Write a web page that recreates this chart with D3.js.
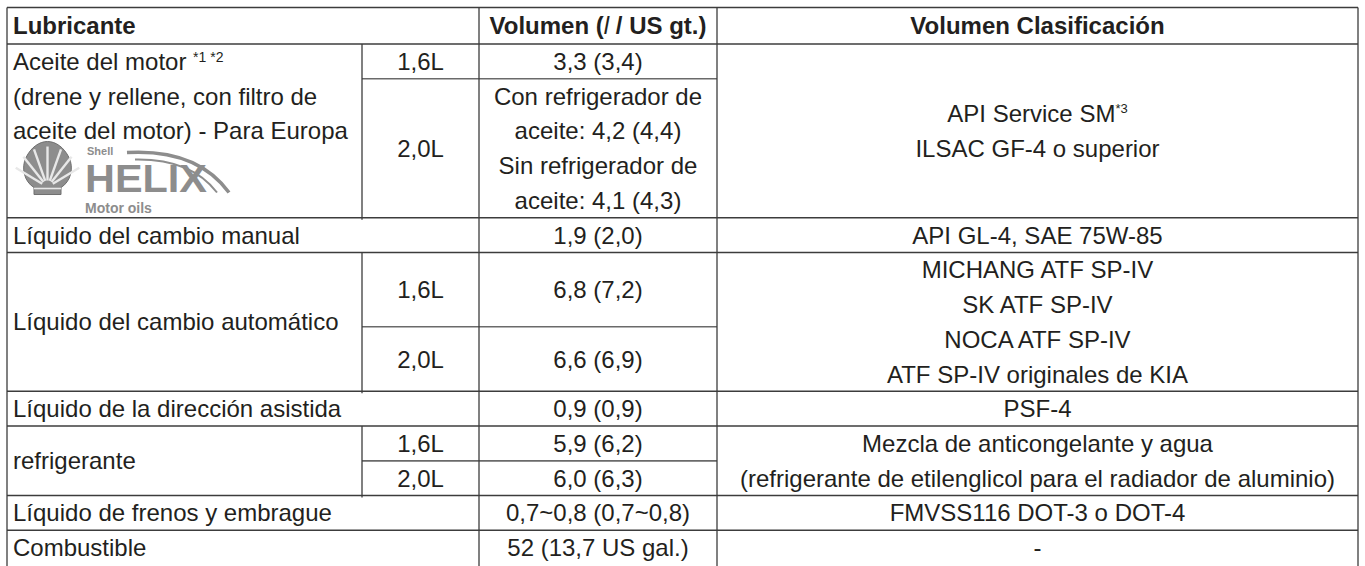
<!DOCTYPE html>
<html>
<head>
<meta charset="utf-8">
<script src="https://cdn.jsdelivr.net/npm/d3@7"></script>
<style>
  html, body { margin: 0; padding: 0; background: #ffffff; }
  svg { display: block; }
  text { font-family: "Liberation Sans", Arial, Helvetica, sans-serif; fill: #231f20; }
</style>
</head>
<body>
<svg id="chart" width="1365" height="566"></svg>
<script>
// ---------------- DATA ----------------
const headers = ["Lubricante", "Volumen (", "l", " / US gt.)", "Volumen Clasificación"];
const lubricantes = [
  "Aceite del motor",
  "Líquido del cambio manual",
  "Líquido del cambio automático",
  "Líquido de la dirección asistida",
  "refrigerante",
  "Líquido de frenos y embrague",
  "Combustible"
];
const notasAceite = ["(drene y rellene, con filtro de", "aceite del motor) - Para Europa"];
const superAceite = "*1 *2";
const variantes = [["1,6L", "2,0L"], [], ["1,6L", "2,0L"], [], ["1,6L", "2,0L"], [], []];
const volumenes = [
  [["3,3 (3,4)"], ["Con refrigerador de", "aceite: 4,2 (4,4)", "Sin refrigerador de", "aceite: 4,1 (4,3)"]],
  [["1,9 (2,0)"]],
  [["6,8 (7,2)"], ["6,6 (6,9)"]],
  [["0,9 (0,9)"]],
  [["5,9 (6,2)"], ["6,0 (6,3)"]],
  [["0,7~0,8 (0,7~0,8)"]],
  [["52 (13,7 US gal.)"]]
];
const clasificaciones = [
  ["API Service SM", "ILSAC GF-4 o superior"],
  ["API GL-4, SAE 75W-85"],
  ["MICHANG ATF SP-IV", "SK ATF SP-IV", "NOCA ATF SP-IV", "ATF SP-IV originales de KIA"],
  ["PSF-4"],
  ["Mezcla de anticongelante y agua", "(refrigerante de etilenglicol para el radiador de aluminio)"],
  ["FMVSS116 DOT-3 o DOT-4"],
  ["-"]
];
const superClasif = "*3";
const logoTexts = ["Shell", "HELIX", "Motor oils"];

// ---------------- LAYOUT ----------------
const blockUnits = [5, 1, 4, 1, 2, 1, 1];
const subUnits = [[1, 4], [1], [2.14, 1.86], [1], [1, 1], [1], [1]];

const svg = d3.select("#chart");
const x = d3.scaleLinear().domain([0, 1, 2, 3, 4]).range([7, 362, 479, 717, 1358]);
const y = d3.scaleLinear().domain([0, 1, 16]).range([7.5, 44, 565]);

const FS = 24;
const capOff = FS * 0.358;
const lineColor = "#3c3c3c";

const blockStart = [];
let u = 1;
blockUnits.forEach(b => { blockStart.push(u); u += b; });

const gLines = svg.append("g");
function hline(u0, c0, c1, color, w) {
  gLines.append("line")
    .attr("x1", x(c0)).attr("x2", x(c1))
    .attr("y1", y(u0)).attr("y2", y(u0))
    .attr("stroke", color || lineColor).attr("stroke-width", w || 1.5);
}
function vline(c, u0, u1) {
  gLines.append("line")
    .attr("x1", x(c)).attr("x2", x(c))
    .attr("y1", y(u0)).attr("y2", y(u1) + 2)
    .attr("stroke", lineColor).attr("stroke-width", 1.3);
}

hline(0, 0, 4);
hline(1, 0, 4);
blockStart.forEach((s, i) => {
  if (i < blockStart.length - 1) hline(s + blockUnits[i], 0, 4);
  let acc = s;
  subUnits[i].slice(0, -1).forEach(su => {
    acc += su;
    hline(acc, 1, 3, "#6a6a6a", 1.7);
  });
});
vline(0, 0, 16);
vline(4, 0, 16);
vline(2, 0, 16);
vline(3, 0, 16);
blockStart.forEach((s, i) => {
  if (variantes[i].length) vline(1, s, s + blockUnits[i]);
});

// ---------------- TEXT ----------------
const gText = svg.append("g");
function txt(str, px, centerY, anchor, opts) {
  const t = gText.append("text")
    .attr("x", px).attr("y", centerY + capOff)
    .attr("text-anchor", anchor || "start")
    .attr("font-size", FS)
    .text(str);
  if (opts && opts.bold) t.attr("font-weight", "bold");
  return t;
}

const hy = (y(0) + y(1)) / 2;
txt(headers[0], 13, hy, "start", { bold: true });
const vh = gText.append("text")
  .attr("x", (x(2) + x(3)) / 2).attr("y", hy + capOff)
  .attr("text-anchor", "middle").attr("font-size", FS).attr("font-weight", "bold");
vh.append("tspan").text(headers[1]);
vh.append("tspan").attr("font-style", "italic").attr("font-weight", "normal").text(headers[2]);
vh.append("tspan").text(headers[3]);
txt(headers[4], (x(3) + x(4)) / 2, hy, "middle", { bold: true });

const cx2 = (x(2) + x(3)) / 2;
const cx3 = (x(3) + x(4)) / 2;
const cx1 = (x(1) + x(2)) / 2;

blockStart.forEach((s, i) => {
  const bUnits = blockUnits[i];
  if (i === 0) {
    const t = txt(lubricantes[0] + " ", 13, y(s + 0.5), "start");
    t.append("tspan").attr("font-size", 14).attr("dy", -8).text(superAceite);
    notasAceite.forEach((n, k) => txt(n, 13, y(s + 1.5 + k), "start"));
  } else {
    txt(lubricantes[i], 13, (y(s) + y(s + bUnits)) / 2, "start");
  }
  let acc = s;
  subUnits[i].forEach((su, k) => {
    const cy = (y(acc) + y(acc + su)) / 2;
    if (variantes[i].length) txt(variantes[i][k], cx1, cy, "middle");
    const lines = volumenes[i][k];
    lines.forEach((l, j) => {
      const ly = cy + (j - (lines.length - 1) / 2) * (y(2) - y(1));
      txt(l, cx2, ly, "middle");
    });
    acc += su;
  });
  const ccy = (y(s) + y(s + bUnits)) / 2;
  const cl = clasificaciones[i];
  cl.forEach((l, j) => {
    const ly = ccy + (j - (cl.length - 1) / 2) * (y(2) - y(1));
    const t = txt(l, cx3, ly, "middle");
    if (i === 0 && j === 0) {
      t.append("tspan").attr("font-size", 13).attr("dy", -9).text(superClasif);
    }
  });
});

// ---------------- LOGO (Shell Helix) ----------------
const logoTop = y(blockStart[0] + 2.75) - 1;
const logo = svg.append("g").attr("transform", `translate(${x(0)},${logoTop})`);
const grey = "#8d8d8d";
logo.append("path")
  .attr("d", "M27 56 L27 49 C17 43 14 29 19 19 C24 9 32 3 40.5 3 C49 3 57 9 62 19 C67 29 64 43 54 49 L54 56 Z")
  .attr("fill", grey).attr("stroke", "#6f6f6f").attr("stroke-width", 1);
const rays = [-62, -42, -22, 0, 22, 42, 62];
rays.forEach(a => {
  const r = a * Math.PI / 180;
  logo.append("line")
    .attr("x1", 40.5 + Math.sin(r) * 6).attr("y1", 48 - Math.cos(r) * 6)
    .attr("x2", 40.5 + Math.sin(r) * 36).attr("y2", 48 - Math.cos(r) * 40)
    .attr("stroke", "#e8e8e8").attr("stroke-width", 2.4);
});
logo.append("line").attr("x1", 27).attr("x2", 54).attr("y1", 50).attr("y2", 50)
  .attr("stroke", "#e8e8e8").attr("stroke-width", 1.6);
logo.append("path").attr("d", "M120 14 Q190 10 222 54").attr("fill", "none").attr("stroke", grey).attr("stroke-width", 3.5);
logo.append("path").attr("d", "M128 21 Q184 20 210 54").attr("fill", "none").attr("stroke", grey).attr("stroke-width", 2);
logo.append("text").attr("x", 80).attr("y", 16.5).attr("font-size", 11).attr("font-weight", "bold")
  .style("fill", grey).text(logoTexts[0]);
logo.append("text").attr("x", 78).attr("y", 53.5).attr("font-size", 38).attr("font-weight", "bold")
  .attr("textLength", 122).attr("lengthAdjust", "spacingAndGlyphs")
  .style("fill", grey).text(logoTexts[1]);
logo.append("text").attr("x", 78).attr("y", 74.5).attr("font-size", 14).attr("font-weight", "bold")
  .style("fill", grey).text(logoTexts[2]);
</script>
</body>
</html>
